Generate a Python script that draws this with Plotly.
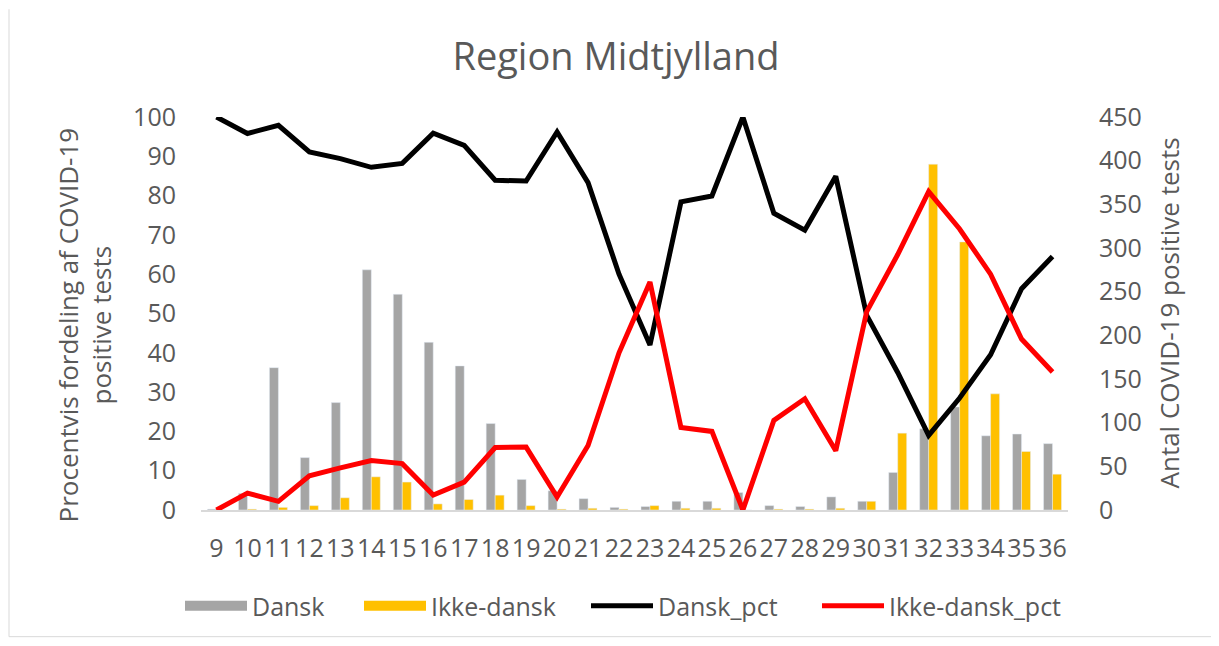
import plotly.graph_objects as go

weeks = [str(w) for w in range(9, 37)]

dansk = [1, 19, 163, 60, 123, 275, 247, 192, 165, 99, 35, 22, 13, 3, 4, 10, 10, 20,
         5, 4, 15, 10, 43, 93, 118, 85, 87, 76]
ikke_dansk = [0, 1, 3, 5, 14, 38, 32, 7, 12, 17, 5, 1, 2, 1, 5, 2, 2, 0,
              1, 1, 2, 10, 88, 396, 307, 133, 67, 41]

dansk_pct = [100, 95.8, 97.9, 91.1, 89.4, 87.2, 88.2, 95.9, 92.8, 83.9, 83.7, 96.2, 83.3,
             60, 42, 78.4, 79.9, 100, 75.5, 71.2, 84.9, 49.5, 35, 19, 28.5, 39.5, 56.3, 64.5]
ikke_dansk_pct = [0, 4.3, 2.2, 8.7, 10.7, 12.6, 11.8, 3.8, 7.1, 15.9, 16.0, 3.3, 16.4,
                  40, 58, 21.0, 20.0, 0, 22.8, 28.3, 15.1, 50.5, 65, 81, 71.5, 60, 43.5, 35.1]

TXT = "#595959"
FONT = "Open Sans"
GRAY = "#A5A5A5"
YEL = "#FFC000"

# page body has an 8px margin: figure coords = screen coords - 8
W, H = 1211, 632
PL, PR, PT, PB = 193, 1060, 109, 503  # plot area in figure px

pw = PR - PL
ph = PB - PT


def px(x):
    return (x - 8 - PL) / pw


def py(y):
    return (PB - (y - 8)) / ph


fig = go.Figure()
fig.add_trace(go.Bar(x=weeks, y=dansk, name="Dansk", marker_color=GRAY,
                     yaxis="y", showlegend=False, legendgroup="d"))
fig.add_trace(go.Bar(x=weeks, y=ikke_dansk, name="Ikke-dansk", marker_color=YEL,
                     yaxis="y", showlegend=False, legendgroup="i"))
# legend proxies with rectangular swatches
fig.add_trace(go.Scatter(x=[None], y=[None], name="Dansk", mode="lines",
                         line=dict(color=GRAY, width=14), legendgroup="d", yaxis="y",
                         legend="legend"))
fig.add_trace(go.Scatter(x=[None], y=[None], name="Ikke-dansk", mode="lines",
                         line=dict(color=YEL, width=14), legendgroup="i", yaxis="y",
                         legend="legend2"))
fig.add_trace(go.Scatter(x=weeks, y=dansk_pct, name="Dansk_pct", mode="lines",
                         line=dict(color="#000000", width=5), yaxis="y2",
                         legend="legend3"))
fig.add_trace(go.Scatter(x=weeks, y=ikke_dansk_pct, name="Ikke-dansk_pct", mode="lines",
                         line=dict(color="#FF0000", width=5), yaxis="y2",
                         legend="legend4"))


def leg(xs):
    return dict(orientation="h", x=px(xs), xanchor="left", y=py(606), yanchor="middle",
                font=dict(size=25, color=TXT), itemwidth=62, bgcolor="rgba(0,0,0,0)")


fig.update_layout(
    width=W, height=H,
    margin=dict(l=PL, r=W - PR, t=PT, b=H - PB),
    paper_bgcolor="white", plot_bgcolor="white",
    font=dict(family=FONT, color=TXT, size=24),
    title=dict(text="Region Midtjylland", x=(616 - 8) / W, xanchor="center",
               y=1 - (57 - 8) / H, yanchor="middle",
               font=dict(family=FONT, size=38, color=TXT)),
    barmode="group", bargap=0.42, bargroupgap=0,
    xaxis=dict(type="category", showgrid=False, showline=True, linecolor="#D9D9D9",
               linewidth=2, tickangle=0, ticks="", ticklabelstandoff=15,
               tickfont=dict(size=25, color=TXT)),
    yaxis=dict(side="right", range=[0, 450], dtick=50, showgrid=False, zeroline=False,
               showline=False, ticks="", ticklabelstandoff=30,
               tickfont=dict(size=25, color=TXT)),
    yaxis2=dict(side="left", overlaying="y", range=[0, 100], dtick=10, showgrid=False,
                zeroline=False, showline=False, ticks="", ticklabelstandoff=24,
                tickfont=dict(size=25, color=TXT)),
    legend=leg(180),
    legend2=leg(359),
    legend3=leg(586),
    legend4=leg(817),
    showlegend=True,
)

fig.add_annotation(text="Procentvis fordeling af COVID-19<br>positive tests",
                   xref="paper", yref="paper", x=px(85), y=py(326),
                   textangle=-90, showarrow=False, xanchor="center", yanchor="middle",
                   font=dict(size=26, color=TXT, family=FONT))
fig.add_annotation(text="Antal COVID-19 positive tests",
                   xref="paper", yref="paper", x=px(1168), y=py(314),
                   textangle=-90, showarrow=False, xanchor="center", yanchor="middle",
                   font=dict(size=26, color=TXT, family=FONT))

# chart-area frame: left and bottom edges visible in the reference
fig.add_shape(type="line", xref="paper", yref="paper",
              x0=px(9), x1=px(9), y0=py(638), y1=py(9),
              line=dict(color="#D9D9D9", width=1), layer="below")
fig.add_shape(type="line", xref="paper", yref="paper",
              x0=px(9), x1=px(1214), y0=py(638), y1=py(638),
              line=dict(color="#D9D9D9", width=1), layer="below")

fig.write_html("out.html")
